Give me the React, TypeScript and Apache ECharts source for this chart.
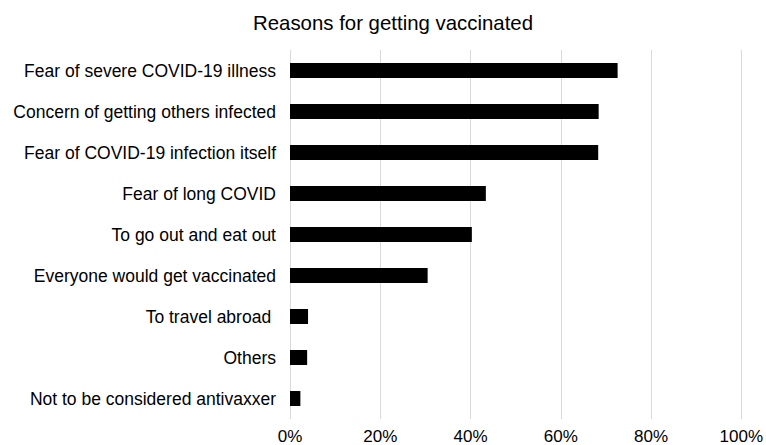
import React, { useEffect, useRef } from "react";
import * as echarts from "echarts";

// Survey reasons, listed top to bottom, with the share of respondents (%)
const reasons = [
  "Fear of severe COVID-19 illness",
  "Concern of getting others infected",
  "Fear of COVID-19 infection itself",
  "Fear of long COVID",
  "To go out and eat out",
  "Everyone would get vaccinated",
  "To travel abroad ",
  "Others",
  "Not to be considered antivaxxer",
];
const shares = [72.6, 68.4, 68.3, 43.4, 40.3, 30.5, 4.0, 3.8, 2.3];

const titleText = "Reasons for getting vaccinated";
const FONT = "'Liberation Sans', Arial, Helvetica, sans-serif";

export default function App() {
  const ref = useRef<HTMLDivElement>(null);

  useEffect(() => {
    if (!ref.current) return;
    const chart = echarts.init(ref.current, null, { renderer: "svg" });
    chart.setOption({
      animation: false,
      backgroundColor: "#ffffff",
      title: {
        text: titleText,
        left: 388,
        top: 8,
        textAlign: "center",
        textStyle: {
          fontFamily: FONT,
          fontSize: 20.4,
          fontWeight: "normal",
          color: "#000",
        },
      },
      grid: { left: 290, right: 24, top: 50, bottom: 24, containLabel: false },
      xAxis: {
        type: "value",
        min: 0,
        max: 100,
        interval: 20,
        axisLine: { show: false },
        axisTick: { show: false },
        splitLine: { show: true, lineStyle: { color: "#d9d9d9", width: 1 } },
        axisLabel: {
          formatter: "{value}%",
          fontFamily: FONT,
          fontSize: 17,
          color: "#000",
          margin: 9,
        },
      },
      yAxis: {
        type: "category",
        data: reasons,
        inverse: true,
        axisLine: { show: false },
        axisTick: { show: false },
        axisLabel: {
          fontFamily: FONT,
          fontSize: 17.5,
          color: "#000",
          margin: 14,
        },
      },
      series: [
        {
          type: "bar",
          data: shares,
          barWidth: 15,
          itemStyle: { color: "#000" },
        },
      ],
    });
    return () => chart.dispose();
  }, []);

  return (
    <div
      ref={ref}
      style={{ position: "absolute", left: 0, top: 0, width: 766, height: 445 }}
    />
  );
}
